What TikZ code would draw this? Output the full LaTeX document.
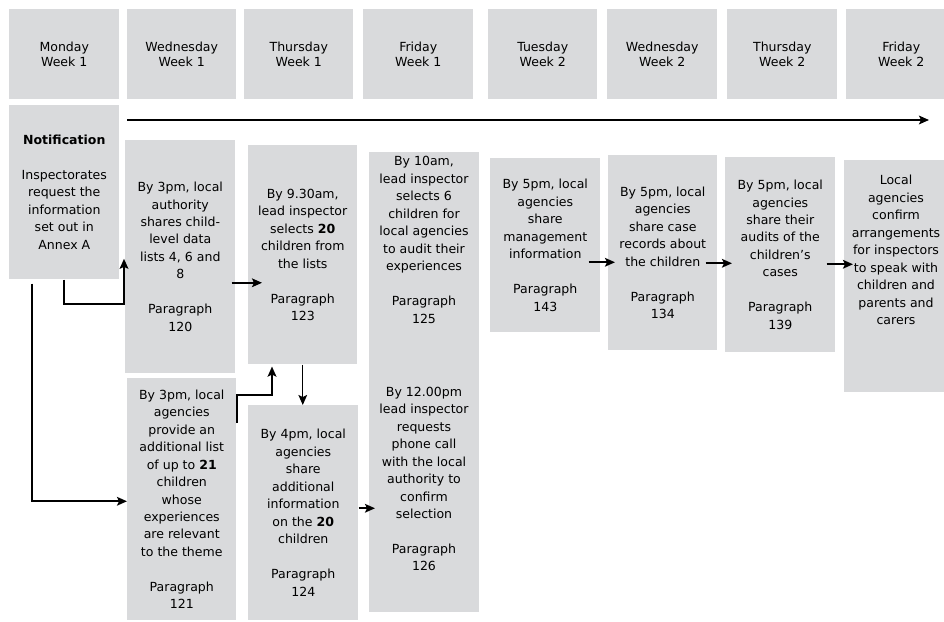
\documentclass[tikz,border=0pt]{standalone}
\usepackage{fontspec}
\setmainfont{DejaVu Sans}
\usetikzlibrary{arrows.meta,calc}
\definecolor{boxgray}{RGB}{217,218,220}
\tikzset{
  day/.style={fill=boxgray,inner sep=0,align=center,font=\fontsize{9.4}{11.8}\selectfont},
  task/.style={fill=boxgray,inner sep=0,align=center,font=\fontsize{9.4}{13.1}\selectfont},
  txt/.style={inner sep=0,align=center,font=\fontsize{9.4}{13.1}\selectfont},
  arr/.style={-{Stealth[length=7.5pt,width=6.5pt,inset=1.5pt]},line width=1.5pt},
}
\newcommand{\Day}[5]% x, y, width, name, text
{\node[day,anchor=north west,minimum width=#3*0.75pt,minimum height=67.5pt] (#4) at (#1,#2) {#5};}
\newcommand{\Task}[6]% x, y, width, height, name, text
{\node[task,anchor=north west,minimum width=#3*0.75pt,minimum height=#4*0.75pt] (#5) at (#1,#2) {#6};}

\begin{document}
\begin{tikzpicture}[x=0.75pt,y=-0.75pt]
  \useasboundingbox (0,0) rectangle (944,621);
  \clip (0,0) rectangle (944,621);
  % days
  \Day{9}{9}{110}{mon1}{Monday\\Week 1}
  \Day{127}{9}{109}{wed1}{Wednesday\\Week 1}
  \Day{244}{9}{109}{thu1}{Thursday\\Week 1}
  \Day{363}{9}{110}{fri1}{Friday\\Week 1}
  \Day{488}{9}{109}{tue2}{Tuesday\\Week 2}
  \Day{607}{9}{110}{wed2}{Wednesday\\Week 2}
  \Day{727}{9}{110}{thu2}{Thursday\\Week 2}
  \Day{846}{9}{110}{fri2}{Friday\\Week 2}
  % tasks
  \Task{9}{105}{110}{174}{notif}{\textbf{Notification}\\[13.1pt]Inspectorates\\request the\\information\\set out in\\Annex A}
  \Task{125}{140}{110}{233}{b120}{By 3pm, local\\authority\\shares child-\\level data\\lists 4, 6 and\\8\\[13.1pt]Paragraph\\120}
  \Task{248}{145}{109}{219}{b123}{By 9.30am,\\lead inspector\\selects \textbf{20}\\children from\\the lists\\[13.1pt]Paragraph\\123}
  \Task{369}{152}{110}{460}{b125}{}
  \node[txt] (t125) at (424,240) {By 10am,\\lead inspector\\selects 6\\children for\\local agencies\\to audit their\\experiences\\[13.1pt]Paragraph\\125};
  \node[txt] (t126) at (424,479) {By 12.00pm\\lead inspector\\requests\\phone call\\with the local\\authority to\\confirm\\selection\\[13.1pt]Paragraph\\126};
  \Task{490}{158}{110}{174}{b143}{By 5pm, local\\agencies\\share\\management\\information\\[13.1pt]Paragraph\\143}
  \Task{608}{155}{109}{195}{b134}{By 5pm, local\\agencies\\share case\\records about\\the children\\[13.1pt]Paragraph\\134}
  \Task{725}{157}{110}{195}{b139}{By 5pm, local\\agencies\\share their\\audits of the\\children’s\\cases\\[13.1pt]Paragraph\\139}
  \Task{844}{160}{110}{232}{b141}{}
  \node[txt] (t141) at (896,250) {Local\\agencies\\confirm\\arrangements\\for inspectors\\to speak with\\children and\\parents and\\carers};
  \Task{127}{378}{109}{242}{b121}{By 3pm, local\\agencies\\provide an\\additional list\\of up to \textbf{21}\\children\\whose\\experiences\\are relevant\\to the theme\\[13.1pt]Paragraph\\121}
  \Task{248}{405}{110}{215}{b124}{By 4pm, local\\agencies\\share\\additional\\information\\on the \textbf{20}\\children\\[13.1pt]Paragraph\\124}
  % arrows
  \coordinate (tl0) at (127,120);
  \coordinate (tl1) at (929,120);
  \draw[arr] (tl0) -- (tl1);
  \draw[arr] (notif.south) |- ($(b120.west)+(-1,47)$) -- ($(b120.west)+(-1,2)$);
  \draw[arr] ($(notif.south west)+(23,4)$) |- ($(b121.west)+(0,2)$);
  \draw[arr] ($(b120.east)+(-4,26)$) -- ($(b123.west)+(14,28)$);
  \draw[arr] ($(b121.north east)+(0,45)$) |- ($(b123.south west)+(24,30)$) -- ($(b123.south west)+(24,2)$);
  \draw[arr,line width=1pt] (b123.south) -- (b123.south |- b124.north);
  \draw[arr] ($(b124.east)+(0,-4.5)$) -- ($(b125.west)+(6,126)$);
  \draw[arr] ($(b143.east)+(-12,17)$) -- ($(b134.west)+(7,9.5)$);
  \draw[arr] ($(b134.east)+(-12,10.5)$) -- ($(b139.west)+(7,8.5)$);
  \draw[arr] ($(b139.east)+(-9,9.5)$) -- ($(b141.west)+(9,-12)$);
\end{tikzpicture}
\end{document}
